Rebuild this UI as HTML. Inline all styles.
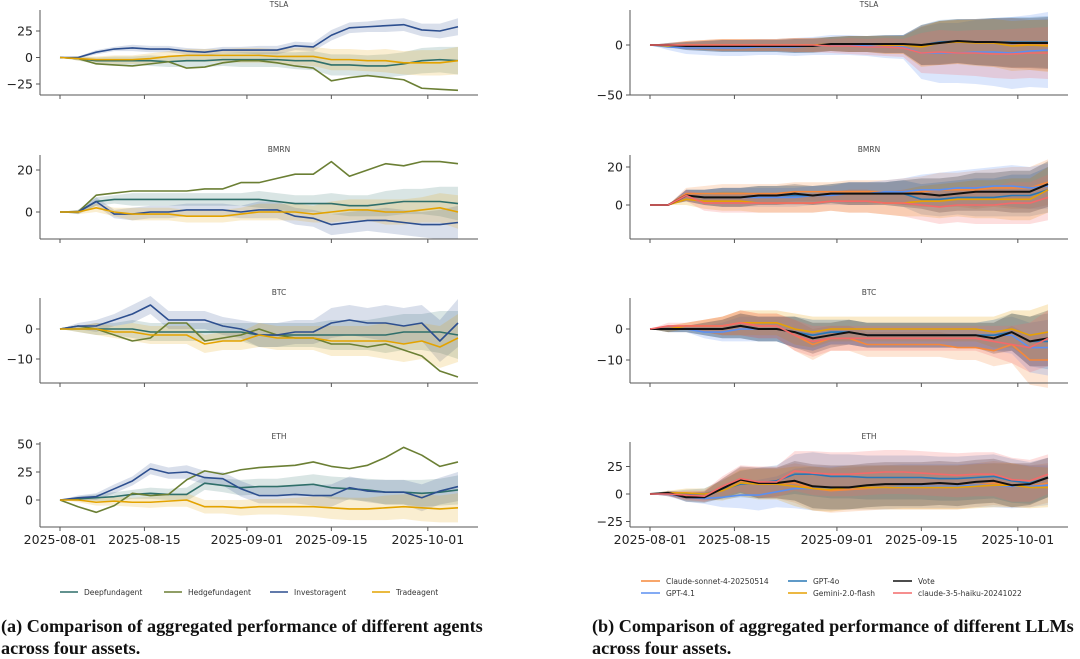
<!DOCTYPE html>
<html><head><meta charset="utf-8"><style>
html,body{margin:0;padding:0;background:#fff;width:1080px;height:659px;overflow:hidden}
svg{display:block}
.cap{font-family:"Liberation Serif",serif;font-weight:bold;font-size:18.2px;fill:#111}
.tk{font-family:"DejaVu Sans","Liberation Sans",sans-serif;font-size:12.5px;fill:#222}
.ttl{font-family:"DejaVu Sans","Liberation Sans",sans-serif;font-size:7.5px;fill:#444}
.lg{font-family:"DejaVu Sans","Liberation Sans",sans-serif;font-size:7.5px;fill:#333}
</style></head><body>
<svg id="chart" width="1080" height="659"></svg>
<script>
// ---- shared data ----
const days = [0,3,6,9,12,15,18,21,24,27,30,33,36,39,42,45,48,51,54,57,60,63,66];
const dateTickDays = [0,14,31,45,61];
const dateTickLabels = ['2025-08-01','2025-08-15','2025-09-01','2025-09-15','2025-10-01'];
const assets = ['TSLA','BMRN','BTC','ETH'];

// ---- left: agents ----
const agentNames = ['Deepfundagent','Hedgefundagent','Investoragent','Tradeagent'];
const tslaDeep   = [0,-1,-3,-3,-3,-3,-4,-3,-3,-2,-2,-2,-2,-3,-3,-7,-7,-8,-8,-6,-3,-2,-3];
const tslaHedge  = [0,-1,-6,-7,-8,-6,-4,-10,-9,-5,-3,-3,-5,-8,-10,-22,-19,-17,-19,-21,-29,-30,-31];
const tslaInv    = [0,0,5,8,9,8,8,6,5,7,7,7,7,11,10,21,28,29,30,31,26,25,29];
const tslaTrade  = [0,-1,-2,-2,-2,-1,1,2,2,2,2,2,1,1,1,-2,-2,-3,-3,-5,-5,-5,-3];
const bmrnDeep   = [0,0,5,6,6,6,6,6,6,6,6,6,5,4,4,4,3,3,4,5,5,5,4];
const bmrnHedge  = [0,0,8,9,10,10,10,10,11,11,14,14,16,18,18,24,17,20,23,22,24,24,23];
const bmrnInv    = [0,0,5,-1,-1,0,0,1,1,1,0,1,1,-2,-3,-6,-5,-4,-4,-5,-6,-6,-5];
const bmrnTrade  = [0,0,2,0,-1,-1,-1,-2,-2,-2,-1,0,0,0,-1,0,1,1,0,0,1,2,0];
const btcDeep    = [0,0,0,0,0,-1,-1,-1,-1,-1,-1,-2,-2,-2,-2,-2,-2,-2,-2,-1,-1,-1,-2];
const btcHedge   = [0,1,0,-2,-4,-3,2,2,-4,-3,-2,0,-2,-3,-3,-5,-5,-6,-5,-7,-9,-14,-16];
const btcInv     = [0,1,1,3,5,8,3,3,3,1,0,-2,-2,-1,-1,2,3,2,2,1,2,-4,2];
const btcTrade   = [0,0,0,-1,-1,-2,-2,-2,-5,-4,-4,-2,-3,-3,-3,-4,-4,-4,-4,-5,-4,-6,-3];
const ethDeep    = [0,1,2,3,5,6,5,5,15,13,11,12,12,13,14,11,10,9,7,7,6,7,9];
const ethHedge   = [0,-6,-11,-5,6,4,5,18,26,23,27,29,30,31,34,30,28,31,38,47,40,30,34];
const ethInv     = [0,2,3,10,17,28,24,25,20,19,10,4,4,5,4,4,11,8,7,7,2,8,12];
const ethTrade   = [0,0,-2,-1,-2,-2,-1,0,-6,-6,-7,-6,-6,-6,-6,-7,-8,-8,-7,-6,-7,-8,-7];
const leftSpreadSmall = [0,1,2,2,3,3,3,3,3,3,3,4,4,4,4,5,5,5,6,6,6,7,8];
const leftSpreadWide  = [0,2,3,4,4,5,5,6,6,6,7,7,7,8,9,10,10,10,11,11,12,12,13];

// ---- right: LLMs ----
const llmNames = ['Claude-sonnet-4-20250514','GPT-4.1','GPT-4o','Gemini-2.0-flash','Vote','claude-3-5-haiku-20241022'];
const rTslaSonnet = [0,0,0,0,0,0,0,0,0,0,1,1,1,0,0,-1,2,3,3,2,2,0,0];
const rTsla41     = [0,-2,-3,-3,-3,-3,-2,-2,-2,-1,0,0,-1,-2,-2,-8,-8,-8,-7,-7,-8,-6,-5];
const rTsla4o     = [0,0,-1,-1,-1,-1,-1,-1,-1,0,1,1,1,1,1,0,3,4,3,3,3,3,3];
const rTslaGemini = [0,-1,0,0,0,0,0,0,0,0,1,1,1,0,0,-2,2,3,2,2,-1,0,-1];
const rTslaVote   = [0,0,-1,-1,-1,-1,-1,-1,-1,-1,1,1,1,1,1,0,2,4,3,3,2,2,2];
const rTslaHaiku  = [0,0,0,0,0,0,0,0,0,0,-1,-1,-2,-2,-3,-8,-7,-8,-8,-9,-9,-8,-8];
const rBmrnSonnet = [0,0,6,6,6,6,6,6,7,7,7,7,7,7,7,7,8,8,8,9,9,9,12];
const rBmrn41     = [0,0,5,4,4,4,4,4,4,5,5,6,6,7,7,8,8,9,9,10,10,9,10];
const rBmrn4o     = [0,0,5,4,4,4,5,5,5,5,6,6,6,6,6,3,3,4,4,4,5,5,8];
const rBmrnGemini = [0,0,3,2,2,2,1,1,1,1,2,2,2,1,1,2,2,3,3,3,3,3,8];
const rBmrnVote   = [0,0,5,4,4,4,5,5,6,5,6,6,6,6,6,6,5,6,7,7,7,7,11];
const rBmrnHaiku  = [0,0,5,1,1,1,1,1,1,1,2,2,2,1,1,0,-1,0,0,0,1,1,4];
const rBtcSonnet  = [0,0,1,1,1,2,1,1,-2,-5,-3,-3,-5,-5,-5,-5,-5,-6,-6,-7,-5,-10,-10];
const rBtc41      = [0,0,0,-1,-1,0,0,0,-1,-2,-1,-1,-2,-2,-2,-2,-2,-2,-2,-2,-2,-6,-6];
const rBtc4o      = [0,0,0,0,0,1,0,0,-1,-2,-1,-1,-2,-2,-2,-2,-2,-2,-2,-2,-1,-4,-4];
const rBtcGemini  = [0,0,1,1,1,2,2,2,0,-1,0,0,0,0,0,0,0,0,0,-1,0,-2,-1];
const rBtcVote    = [0,0,0,0,0,1,0,0,-1,-3,-2,-1,-2,-2,-2,-2,-2,-2,-2,-3,-1,-4,-3];
const rBtcHaiku   = [0,1,1,1,1,2,1,1,-2,-4,-3,-3,-3,-3,-3,-3,-3,-3,-3,-4,-5,-6,-3];
const rEthSonnet  = [0,0,-2,-2,5,12,10,10,10,5,3,4,5,6,6,6,6,6,8,10,8,7,10];
const rEth41      = [0,0,-3,-4,-3,-1,-1,2,5,5,5,6,6,6,7,7,7,7,8,8,7,7,8];
const rEth4o      = [0,0,0,0,4,9,10,12,18,18,16,16,15,15,15,15,14,14,15,16,12,10,15];
const rEthGemini  = [0,1,1,0,3,10,9,9,7,5,4,6,6,6,6,6,6,6,7,8,8,6,6];
const rEthVote    = [0,1,-3,-3,5,13,10,10,12,7,6,6,8,9,9,9,10,9,11,12,8,9,15];
const rEthHaiku   = [0,0,-1,-2,7,14,11,11,21,19,18,18,19,20,20,19,18,17,18,18,13,12,18];
const rTslaSpread = [0,2,4,5,6,6,6,6,7,7,7,8,8,9,9,20,22,22,23,24,25,25,26];
const rTsla41Spread = [0,3,6,7,8,8,8,8,9,9,10,10,10,11,12,26,30,30,32,34,36,36,38];
const rBmrnSpread = [0,0,3,4,5,5,5,5,5,5,5,6,6,6,7,8,9,9,10,10,11,11,12];
const rBtcSpread  = [0,1,1,2,3,4,4,4,5,5,4,4,4,4,4,4,4,4,4,5,6,8,9];
const rEthSpread  = [0,2,4,5,9,12,14,14,18,20,20,20,20,20,20,20,20,20,20,20,20,19,18];

const cA = ['#2f6f6a','#6b7f34','#2d4f8f','#e3a300'];
const cL = ['#f5883a','#5b8ff0','#2a78b5','#e6a005','#111111','#f46a6a'];

const leftSeries = [
 [[tslaDeep,leftSpreadWide],[tslaHedge,null],[tslaInv,leftSpreadSmall],[tslaTrade,leftSpreadWide]],
 [[bmrnDeep,leftSpreadSmall],[bmrnHedge,null],[bmrnInv,leftSpreadSmall],[bmrnTrade,leftSpreadSmall]],
 [[btcDeep,leftSpreadSmall],[btcHedge,null],[btcInv,leftSpreadSmall],[btcTrade,leftSpreadSmall]],
 [[ethDeep,leftSpreadWide],[ethHedge,null],[ethInv,leftSpreadWide],[ethTrade,leftSpreadWide]]];
const rightSeries = [
 [rTslaSonnet,rTsla41,rTsla4o,rTslaGemini,rTslaVote,rTslaHaiku],
 [rBmrnSonnet,rBmrn41,rBmrn4o,rBmrnGemini,rBmrnVote,rBmrnHaiku],
 [rBtcSonnet,rBtc41,rBtc4o,rBtcGemini,rBtcVote,rBtcHaiku],
 [rEthSonnet,rEth41,rEth4o,rEthGemini,rEthVote,rEthHaiku]];
const rightSpreads = [rTslaSpread,rBmrnSpread,rBtcSpread,rEthSpread];

// layout (pixels)
const leftPanels = [
 {top:10,bot:95,zero:57.5,k:1.06,ticks:[25,0,-25]},
 {top:155,bot:239,zero:212,k:2.1,ticks:[20,0]},
 {top:298,bot:383,zero:329,k:3.0,ticks:[0,-10]},
 {top:442,bot:527,zero:500,k:1.12,ticks:[50,25,0]}];
const rightPanels = [
 {top:10,bot:95,zero:45,k:1.0,ticks:[0,-50]},
 {top:155,bot:239,zero:205,k:1.9,ticks:[20,0]},
 {top:298,bot:383,zero:329,k:3.1,ticks:[0,-10]},
 {top:442,bot:527,zero:494,k:1.1,ticks:[25,0,-25]}];

const svg = document.getElementById('chart');
const NS='http://www.w3.org/2000/svg';
function mk(tag, attrs, parent){const e=document.createElementNS(NS,tag);for(const k in attrs)e.setAttribute(k,attrs[k]);(parent||svg).appendChild(e);return e;}

function drawPanel(side, pi, P, x0, series, colors, spreads, names){
  const g = mk('g',{});
  
  
  const xs = d => x0 + 20 + d*6.03;
  const ys = v => P.zero - v*P.k;
  const t = mk('text',{x:x0+239,y:P.top-3,'text-anchor':'middle','class':'ttl'},g);
  t.textContent = assets[pi];
  
  
  series.forEach((s,i)=>{
    const vals=s[0], sp=s[1]; if(!sp) return;
    let up=vals.map((v,j)=>xs(days[j])+','+ys(v+sp[j])).join(' ');
    let lo=vals.map((v,j)=>xs(days[j])+','+ys(v-sp[j])).reverse().join(' ');
    const b=mk('polygon',{points:up+' '+lo,fill:colors[i],'fill-opacity':side==='left'?0.18:0.22,stroke:'none'},g);
    
    
  });
  series.forEach((s,i)=>{
    const vals=s[0];
    const l=mk('polyline',{points:vals.map((v,j)=>xs(days[j])+','+ys(v)).join(' '),fill:'none',stroke:colors[i],'stroke-width':names[i]==='Vote'?2:1.6,'stroke-linejoin':'round'},g);
    
    
  });
  const ya=mk('line',{x1:x0,y1:P.top,x2:x0,y2:P.bot,stroke:'#555','stroke-width':1},g);
   
  const xa=mk('line',{x1:x0,y1:P.bot,x2:x0+438,y2:P.bot,stroke:'#555','stroke-width':1},g);
   
  P.ticks.forEach(v=>{
    mk('line',{x1:x0-4,y1:ys(v),x2:x0,y2:ys(v),stroke:'#555'},g);
    const tl=mk('text',{x:x0-7,y:ys(v)+4.5,'text-anchor':'end','class':'tk'},g);
    tl.textContent = v<0 ? '\u2212'+Math.abs(v) : String(v);
     
  });
  dateTickDays.forEach((d,i)=>{
    mk('line',{x1:xs(d),y1:P.bot,x2:xs(d),y2:P.bot+4,stroke:'#555'},g);
    if(pi===3){
      const tl=mk('text',{x:xs(d),y:P.bot+17,'text-anchor':'middle','class':'tk'},g);
      tl.textContent=dateTickLabels[i];
       
    }
  });
}
leftPanels.forEach((P,i)=>drawPanel('left',i,P,40,leftSeries[i],cA,null,agentNames));
rightPanels.forEach((P,i)=>drawPanel('right',i,P,630,rightSeries[i].map(v=>[v,rightSpreads[i]]).map((s,j)=>j===1&&i===0?[s[0],rTsla41Spread]:s),cL,null,llmNames));

function legendItem(x,y,color,label,w){
  const g=mk('g',{});
  
  
  mk('line',{x1:x,y1:y,x2:x+w,y2:y,stroke:color,'stroke-width':1.6},g);
  const t=mk('text',{x:x+w+6,y:y+3,'class':'lg'},g); t.textContent=label;
}
legendItem(60,592,cA[0],agentNames[0],18);
legendItem(164,592,cA[1],agentNames[1],18);
legendItem(270,592,cA[2],agentNames[2],18);
legendItem(372,592,cA[3],agentNames[3],18);
legendItem(641,581,cL[0],llmNames[0],19);
legendItem(641,593,cL[1],llmNames[1],19);
legendItem(788,581,cL[2],llmNames[2],19);
legendItem(788,593,cL[3],llmNames[3],19);
legendItem(893,581,cL[4],llmNames[4],19);
legendItem(893,593,cL[5],llmNames[5],19);

function cap(x,y,txt,name){const t=mk('text',{x:x,y:y,'class':'cap'});t.textContent=txt;}
cap(1,632,'(a) Comparison of aggregated performance of different agents','caption-a-line1');
cap(1,654,'across four assets.','caption-a-line2');
cap(592,632,'(b) Comparison of aggregated performance of different LLMs','caption-b-line1');
cap(592,654,'across four assets.','caption-b-line2');
</script>
</body></html>
